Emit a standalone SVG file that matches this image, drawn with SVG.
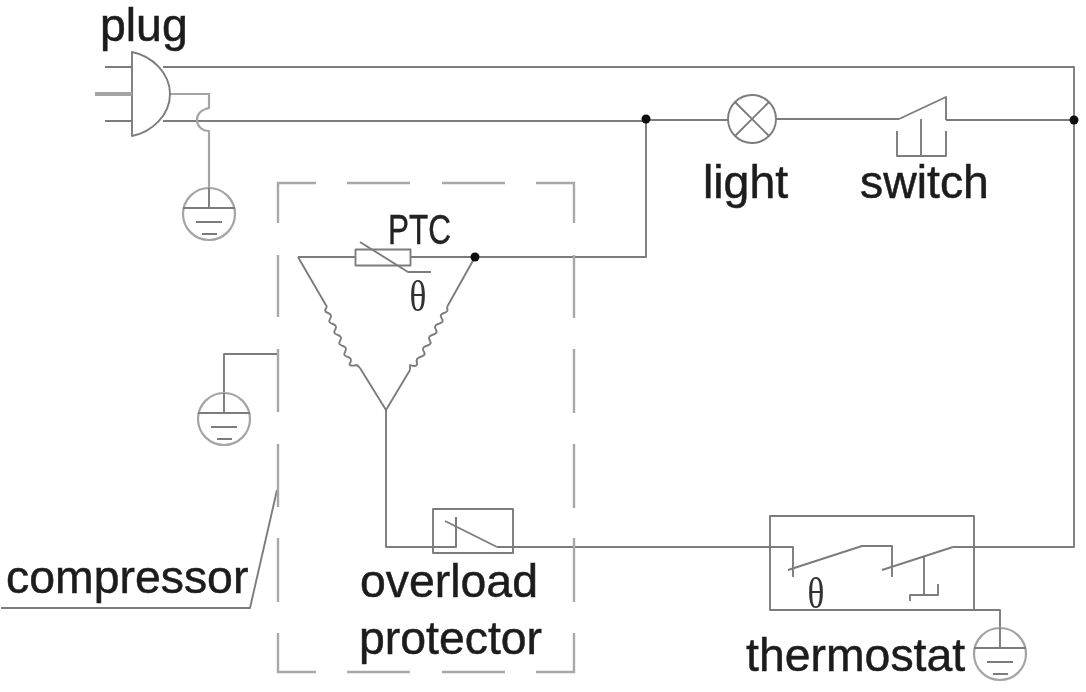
<svg xmlns="http://www.w3.org/2000/svg" width="1086" height="692" viewBox="0 0 1086 692">
<defs>
<style>
.w{fill:none;stroke:#7c7c7c;stroke-width:1.9;stroke-linejoin:round}
.l{fill:none;stroke:#a4a4a4;stroke-width:2.2}
.d{fill:none;stroke:#a8a8a8;stroke-width:2.4}
.t{font-family:"Liberation Sans",Arial,sans-serif;font-size:46.4px;fill:#1c1c1c;stroke:#1c1c1c;stroke-width:.5}
.p{font-family:"Liberation Sans",Arial,sans-serif;font-size:42px;fill:#222;stroke:#222;stroke-width:.4}
.th{font-family:"Liberation Serif","Times New Roman",serif;font-size:44px;fill:#333;text-anchor:middle}
.dot{fill:#111}
</style>
<filter id="soft" x="0" y="0" width="100%" height="100%"><feGaussianBlur stdDeviation="0.45"/></filter>
<g id="earth">
<circle cx="0" cy="0" r="26" class="l"/>
<path d="M-26-6H26M0-26V-6M-13 8H13M-7 20H8" class="w"/>
</g>
</defs>
<rect width="1086" height="692" fill="#fff"/>
<g filter="url(#soft)">
<g id="connectors">
<path class="w" d="M163 67H1074V547H953"/>
<path class="w" d="M163 121H646V120H728M776 119H899M946 120H1074"/>
<path class="w" d="M646 119V257H475"/>
<path class="w" d="M411 257H475"/>
<path class="w" d="M298 257L327 307M475 257L447 307M360 368L386 410L410 370"/>
<path class="w" d="M386 410V547H456V517M497 547H793V577"/>
<path class="l" d="M170 94H209V108C200 110 197 115 197 120C197 126 202 131 209 131V188"/>
<path class="w" d="M224 392V354H278"/>
<path class="w" d="M974 610H1000V628"/>
<path class="w" d="M1 608H250L277 490"/>
</g>
<g id="plug">
<path class="w" d="M132 52V136C152 132 170 115 170 94C170 73 152 56 132 52Z" fill="#fff"/>
<path class="w" d="M105 67H132M105 121H132"/>
<path class="l" d="M95 94H132" style="stroke-width:4"/>
<text class="t" x="100" y="41">plug</text>
</g>
<g id="plug-earth"><use href="#earth" x="209" y="214"/></g>
<g id="compressor">
<path class="d" d="M278 223V183H316M347 183H410M442 183H505M536 183H574V223M574 255V318M574 349V413M574 444V508M574 538V602M574 633V672H536M505 672H442M410 672H347M316 672H278V633M278 602V538M278 507V444M278 412V349M278 317V255"/>
<text class="t" x="6" y="593">compressor</text>
</g>
<g id="compressor-earth"><use href="#earth" x="224" y="419"/></g>
<g id="lamp">
<circle cx="752" cy="119" r="24" class="w" fill="#fff"/>
<path class="w" d="M735 102L769 136M769 102L735 136"/>
<text class="t" x="703" y="198">light</text>
</g>
<g id="switch">
<path class="w" d="M899 119L946 97V120M897 131V156H946V131M921 119V156"/>
<text class="t" x="860" y="198">switch</text>
</g>
<g id="ptc">
<rect x="355.500" y="249.500" width="55" height="16" class="w" fill="#fff"/>
<path class="w" d="M298 257H355M360 242L408 272H431"/>
<text class="p" x="388" y="244" textLength="63" lengthAdjust="spacingAndGlyphs">PTC</text>
<text class="th" transform="translate(418 311) scale(.8 1)">θ</text>
</g>
<g id="windings">
<path class="w" d="M327 307c-3 3-2 5 1 6s4 3 2 6 0 4 3 5 4 3 2 6 0 4 3 5 4 3 2 6 0 4 3 5 4 3 2 6 0 4 3 5 4 3 2 6 3 3 7 2L360 368"/>
<path class="w" d="M447 307c1 3 1 5-3 6s-4 3-2 6-1 4-4 5-4 3-2 6-1 4-4 5-4 3-2 6-1 4-4 5-4 3-2 6-1 4-4 5-4 3-3 6-3 4-7 2L410 370"/>
</g>
<g id="junctions">
<circle class="dot" cx="646" cy="119" r="4.500"/>
<circle class="dot" cx="1074" cy="120" r="4.500"/>
<circle class="dot" cx="475" cy="257" r="4.500"/>
</g>
<g id="overload-protector">
<rect x="433" y="509" width="80" height="44" class="w"/>
<path class="w" d="M456 517V547M445 521L497 547"/>
<text class="t" x="360" y="597">overload</text>
<text class="t" x="359" y="654">protector</text>
</g>
<g id="thermostat">
<rect x="770" y="516" width="204" height="94" class="w"/>
<path class="w" d="M788 570L862 546H892V577M882 570L953 547M924 557V595M910 601V595H938V584"/>
<text class="th" transform="translate(816 608) scale(.8 1)">θ</text>
<text class="t" x="746" y="671">thermostat</text>
</g>
<g id="thermostat-earth"><use href="#earth" x="1000" y="654"/></g>
</g>
</svg>
